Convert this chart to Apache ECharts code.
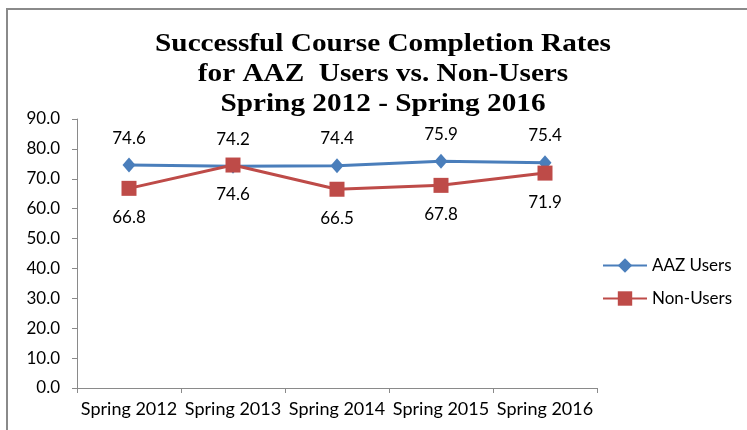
<!DOCTYPE html>
<html><head><meta charset="utf-8">
<script src="https://cdn.jsdelivr.net/npm/echarts@6/dist/echarts.min.js"></script>
<style>html,body{margin:0;padding:0;background:#fff}#c{width:747px;height:430px}</style>
</head><body><div id="c"></div>
<script>
const categories = ['Spring 2012','Spring 2013','Spring 2014','Spring 2015','Spring 2016'];
const aazUsers = [74.6, 74.2, 74.4, 75.9, 75.4];
const nonUsers = [66.8, 74.6, 66.5, 67.8, 71.9];
const seriesNames = ['AAZ Users','Non-Users'];
const titleText = 'Successful Course Completion Rates\nfor AAZ  Users vs. Non-Users\nSpring 2012 - Spring 2016';

const chart = echarts.init(document.getElementById('c'), null, {renderer:'canvas'});
const font = 'Lato, "Open Sans", sans-serif';
chart.setOption({
  animation:false,
  backgroundColor:'#fff',
  graphic:[
    {type:'rect',shape:{x:7,y:9,width:800,height:500},style:{fill:'none',stroke:'#8a8a8a',lineWidth:2},silent:true},
    {type:'text',x:383,y:30,scaleX:1.17,style:{text:titleText,textAlign:'center',textVerticalAlign:'top',
      fontFamily:'"Liberation Serif", serif',fontWeight:'bold',fontSize:25,lineHeight:30,fill:'#000'}}
  ],
  legend:{orient:'vertical',left:597,top:252,itemGap:16,itemWidth:44,itemHeight:18,
    textStyle:{fontFamily:font,fontSize:17,color:'#000'},
    data:seriesNames},
  grid:{left:77,right:150,top:119,bottom:42,containLabel:false},
  xAxis:{type:'category',data:categories,boundaryGap:true,
    axisLine:{lineStyle:{color:'#8a8a8a',width:1}},
    axisTick:{show:true,length:5,lineStyle:{color:'#8a8a8a'}},
    axisLabel:{fontFamily:font,fontSize:18,color:'#000',margin:12,interval:0}},
  yAxis:{type:'value',min:0,max:90,interval:10,
    axisLine:{show:true,lineStyle:{color:'#8a8a8a'}},
    axisTick:{show:true,length:5,lineStyle:{color:'#8a8a8a'}},
    splitLine:{show:false},
    axisLabel:{fontFamily:font,fontSize:17,color:'#000',margin:17,formatter:v=>v.toFixed(1)}},
  series:[
    {name:seriesNames[0],type:'line',data:aazUsers,symbol:'diamond',symbolSize:[13,15],
      lineStyle:{color:'#4A7EBB',width:3},itemStyle:{color:'#4A7EBB'},
      label:{show:true,position:'top',distance:11,fontFamily:font,fontSize:17,color:'#000',formatter:p=>p.value.toFixed(1)}},
    {name:seriesNames[1],type:'line',data:nonUsers,symbol:'rect',symbolSize:15,
      lineStyle:{color:'#BE4B48',width:3},itemStyle:{color:'#BE4B48'},
      label:{show:true,position:'bottom',distance:13,fontFamily:font,fontSize:17,color:'#000',formatter:p=>p.value.toFixed(1)}}
  ]
});
</script></body></html>
